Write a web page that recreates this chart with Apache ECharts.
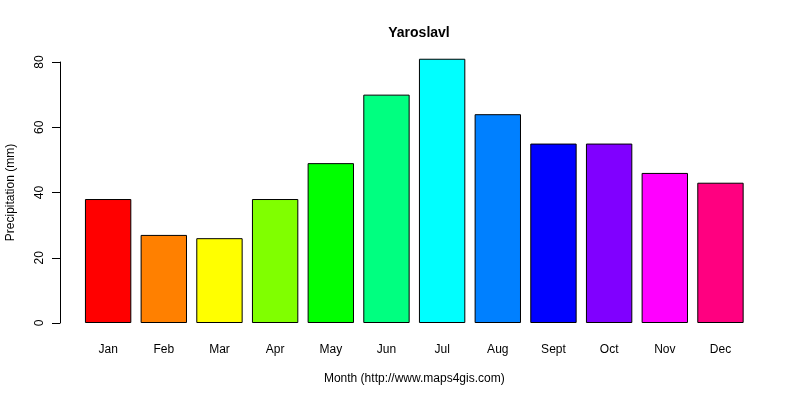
<!DOCTYPE html>
<html lang="en">
<head>
    <meta charset="UTF-8">
    <title>Yaroslavl</title>
</head>
<body style="margin:0;background:#fff;">
    <div id="app" style="width: 800px;height:400px;"></div>
    <script src="https://cdn.jsdelivr.net/npm/echarts@6/dist/echarts.min.js"></script>
    <script>
        const months = ["Jan","Feb","Mar","Apr","May","Jun","Jul","Aug","Sept","Oct","Nov","Dec"];
        const rain = [38, 27, 26, 38, 49, 70, 81, 64, 55, 55, 46, 43];
        const colors = ["#FF0000","#FF8000","#FFFF00","#80FF00","#00FF00","#00FF80",
                        "#00FFFF","#0080FF","#0000FF","#8000FF","#FF00FF","#FF0080"];
        const yTicks = [0, 20, 40, 60, 80];

        const font = "Liberation Sans, Arial, sans-serif";
        const myChart = echarts.init(document.getElementById('app'));
        const options = {
            animation: false,
            title: {
                text: "Yaroslavl",
                left: 414,
                textAlign: "center",
                top: 21,
                textStyle: {fontFamily: font, fontSize: 14, fontWeight: "bold", color: "#000"}
            },
            grid: {left: 80.3, right: 51.7, top: 62, bottom: 77, outerBoundsMode: "none"},
            xAxis: {
                type: "category",
                data: months,
                axisLine: {show: false},
                axisTick: {show: false},
                axisLabel: {margin: 21, fontFamily: font, fontSize: 12, color: "#000"},
                name: "Month (http://www.maps4gis.com)",
                nameLocation: "middle",
                nameGap: 50,
                nameTextStyle: {fontFamily: font, fontSize: 12, color: "#000"}
            },
            yAxis: {
                type: "value",
                min: yTicks[0],
                max: yTicks[yTicks.length - 1],
                interval: 20,
                offset: 20.3,
                splitLine: {show: false},
                axisLine: {show: true, lineStyle: {color: "#000", width: 1}},
                axisTick: {show: true, length: 8, lineStyle: {color: "#000"}},
                axisLabel: {rotate: 90, margin: 14, fontFamily: font, fontSize: 12, color: "#000"},
                name: "Precipitation (mm)",
                nameLocation: "middle",
                nameGap: 43,
                nameTextStyle: {fontFamily: font, fontSize: 12, color: "#000"}
            },
            series: [{
                type: "bar",
                clip: false,
                barCategoryGap: "16.7%",
                data: rain.map((v, i) => ({
                    value: v,
                    itemStyle: {color: colors[i], borderColor: "#000", borderWidth: 1}
                }))
            }]
        };
        myChart.setOption(options);
    </script>
</body>
</html>
